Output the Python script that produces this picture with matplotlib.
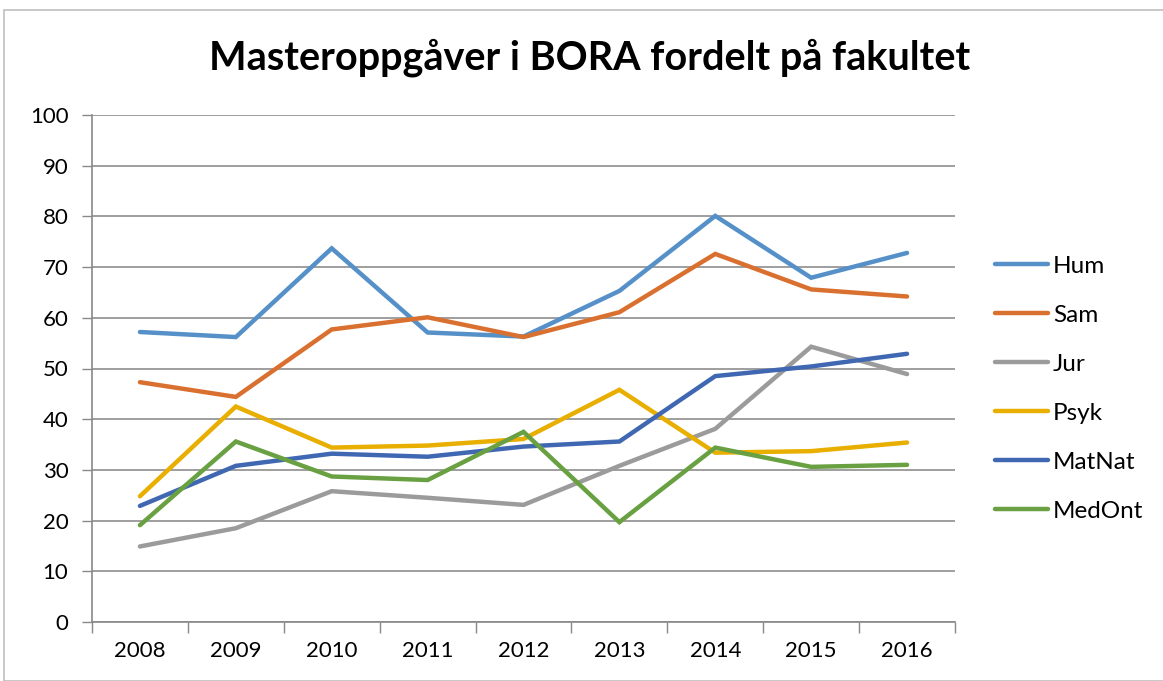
import matplotlib
matplotlib.use("Agg")
import matplotlib.pyplot as plt
from matplotlib.patches import Rectangle

years = ["2008", "2009", "2010", "2011", "2012", "2013", "2014", "2015", "2016"]
hum = [57.2, 56.2, 73.7, 57.1, 56.3, 65.3, 80.1, 67.9, 72.8]
sam = [47.3, 44.4, 57.7, 60.1, 56.2, 61.1, 72.6, 65.6, 64.2]
jur = [14.9, 18.5, 25.8, 24.5, 23.1, 30.8, 38.1, 54.3, 48.9]
psyk = [24.8, 42.5, 34.4, 34.8, 36.1, 45.8, 33.4, 33.7, 35.4]
matnat = [22.9, 30.8, 33.2, 32.6, 34.6, 35.6, 48.5, 50.4, 52.9]
medont = [19.1, 35.6, 28.7, 28.0, 37.5, 19.7, 34.4, 30.6, 31.0]

series = [("Hum", hum, "#5591C8"), ("Sam", sam, "#DA7030"),
          ("Jur", jur, "#9B9B9B"), ("Psyk", psyk, "#E8AE00"),
          ("MatNat", matnat, "#4068B2"), ("MedOnt", medont, "#68A042")]

plt.rcParams['font.family'] = ['Lato', 'DejaVu Sans']

W, H = 1163, 681
fig = plt.figure(figsize=(W / 100, H / 100), dpi=100)
fig.patches.append(Rectangle((4 / W, 0), 1.2, 1 - 10 / H, transform=fig.transFigure,
                             fill=False, edgecolor="#BFBFBF", linewidth=1.2))

ax = fig.add_axes([92 / W, 1 - 622 / H, (955 - 92) / W, (622 - 115) / H])
x = list(range(len(years)))
for name, vals, col in series:
    ax.plot(x, vals, color=col, linewidth=3.2, label=name, solid_capstyle='round',
            solid_joinstyle='miter')

ax.set_xlim(-0.5, len(years) - 0.5)
ax.set_ylim(0, 100)
ax.set_yticks(range(0, 101, 10))
ax.set_xticks(x)
ax.set_xticklabels(years)
ax.set_xticks([i - 0.5 for i in range(len(years) + 1)], minor=True)
ax.tick_params(axis='x', which='major', length=0, labelsize=16, pad=14, colors='black')
ax.tick_params(axis='x', which='minor', length=8, color='#898989', width=1)
ax.tick_params(axis='y', which='major', length=7, color='#898989', width=1, labelsize=16, pad=10)
ax.grid(axis='y', color='#8E8E8E', linewidth=1.2)
ax.set_axisbelow(True)
for s in ['top', 'right']:
    ax.spines[s].set_visible(False)
for s in ['left', 'bottom']:
    ax.spines[s].set_color('#898989')
    ax.spines[s].set_linewidth(1.2)

fig.text(590 / W, 1 - 58 / H, "Masteroppgåver i BORA fordelt på fakultet",
         ha='center', va='center', fontsize=28.5, fontweight='bold')

ax.legend(loc='upper left', bbox_to_anchor=(985 / W, 1 - 246 / H),
          bbox_transform=fig.transFigure, frameon=False, fontsize=17.5,
          handlelength=2.2, handletextpad=0.2, labelspacing=1.15, borderaxespad=0)

fig.savefig("out.png", dpi=100)
